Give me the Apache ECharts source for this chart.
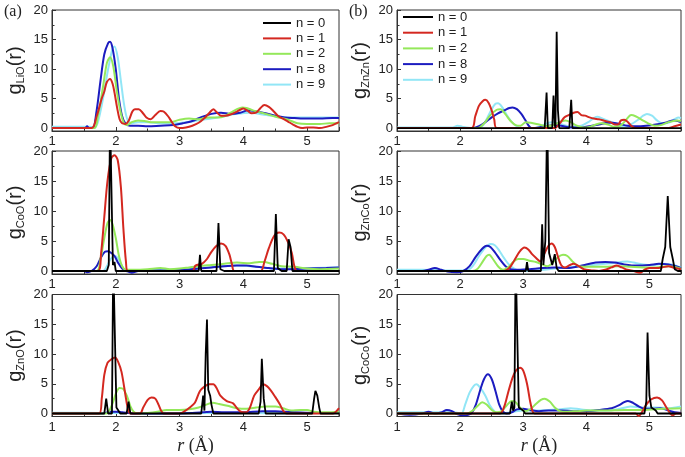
<!DOCTYPE html>
<html><head><meta charset="utf-8">
<script src="https://cdn.jsdelivr.net/npm/echarts@6/dist/echarts.min.js"></script>
<style>html,body{margin:0;padding:0;background:#fff}#c{width:685px;height:457px}</style>
</head><body><div id="c"></div>
<script>
// ---------- data ----------
const seriesNames = ['n = 0', 'n = 1', 'n = 2', 'n = 8', 'n = 9'];
const xTicks = [1, 2, 3, 4, 5];
const yTicks = [0, 5, 10, 15, 20];
const yMinorTicks = [2.5, 7.5, 12.5, 17.5];
const pairLabels = ['LiO', 'ZnZn', 'CoO', 'ZnCo', 'ZnO', 'CoCo'];

// g_LiO (no n = 0 curve)
const LiO_n0 = [];
const LiO_n1 = [[1,0],[1.62,0],[1.7,2],[1.78,5],[1.82,6.2],[1.86,7.8],[1.91,8.3],[1.95,7.5],[1.98,6],[2.02,3.5],[2.06,1.5],[2.1,0.8],[2.15,0.7],[2.2,1.2],[2.26,2.8],[2.3,3.2],[2.36,3.2],[2.42,2.6],[2.48,1.8],[2.55,1.5],[2.62,2.2],[2.7,2.9],[2.75,2.8],[2.82,2.0],[2.88,1.0],[2.93,0.3],[3.0,0],[3.1,0.1],[3.2,0.4],[3.3,0.9],[3.4,1.8],[3.47,2.6],[3.53,3.2],[3.58,2.7],[3.65,2.1],[3.72,2.1],[3.8,2.3],[3.88,2.7],[3.95,3.1],[4.0,3.3],[4.07,2.9],[4.13,2.5],[4.2,2.6],[4.27,3.4],[4.33,3.9],[4.4,3.6],[4.47,2.9],[4.55,2.0],[4.62,1.6],[4.7,1.1],[4.78,0.6],[4.85,0.2],[4.92,0],[5.0,0.1],[5.1,0.1],[5.2,0],[5.3,0.2],[5.4,0.5],[5.5,1.0]];
const LiO_n2 = [[1,0],[1.66,0],[1.72,2],[1.8,7],[1.86,11],[1.91,12],[1.96,10.5],[2.02,6],[2.08,2.5],[2.13,0.8],[2.18,0.5],[2.25,1.0],[2.35,1.3],[2.45,1.2],[2.55,1.0],[2.7,1.0],[2.85,1.0],[3.0,1.4],[3.15,1.6],[3.3,1.5],[3.45,1.8],[3.6,1.8],[3.7,2.0],[3.8,2.6],[3.9,3.2],[3.98,3.5],[4.05,3.4],[4.15,3.0],[4.25,2.7],[4.35,2.4],[4.45,2.1],[4.55,1.8],[4.65,1.6],[4.75,1.2],[4.85,0.8],[5.0,0.7],[5.2,0.7],[5.35,0.8],[5.5,0.8]];
const LiO_n8 = [[1,0],[1.52,0],[1.55,0.3],[1.58,0],[1.64,0],[1.7,3],[1.76,8],[1.82,12.5],[1.88,14.4],[1.91,14.6],[1.95,13.5],[2.0,10],[2.05,5],[2.1,2],[2.15,0.8],[2.22,0.4],[2.35,0.4],[2.5,0.3],[2.7,0.4],[2.9,0.5],[3.05,0.8],[3.2,1.2],[3.35,1.9],[3.5,2.4],[3.65,2.6],[3.8,2.4],[3.95,2.6],[4.08,3.0],[4.2,2.8],[4.35,2.5],[4.5,2.1],[4.65,1.8],[4.8,1.7],[5.0,1.6],[5.2,1.6],[5.4,1.7],[5.5,1.7]];
const LiO_n9 = [[1,0.2],[1.6,0.2],[1.66,0],[1.72,1],[1.8,5],[1.88,10],[1.95,13.5],[1.98,13.8],[2.03,12],[2.08,8],[2.13,4],[2.18,1.5],[2.24,0.8],[2.35,1.0],[2.5,1.0],[2.7,0.8],[2.9,0.8],[3.1,1.0],[3.3,1.3],[3.5,1.6],[3.7,2.0],[3.9,2.4],[4.1,2.6],[4.3,2.3],[4.5,2.0],[4.7,1.8],[5.0,1.8],[5.3,1.8],[5.5,1.8]];

// g_ZnZn
const ZnZn_n0 = [[1,0],[3.34,0],[3.37,6],[3.39,0],[3.46,0],[3.48,5.5],[3.5,0.5],[3.51,0],[3.53,16.3],[3.55,3],[3.57,0],[3.73,0],[3.76,4.8],[3.78,0],[5.5,0]];
const ZnZn_n1 = [[1,0],[2.18,0],[2.24,2],[2.3,3.8],[2.36,4.6],[2.4,4.8],[2.45,4.3],[2.5,3],[2.54,1.5],[2.58,0],[3.5,0],[3.58,0.8],[3.65,1.8],[3.72,2.2],[3.8,2.6],[3.86,2.7],[3.92,2.2],[3.98,2.1],[4.05,1.8],[4.12,1.6],[4.2,1.5],[4.3,1.2],[4.38,1.0],[4.45,0.6],[4.5,0.6],[4.55,1.3],[4.6,1.4],[4.66,1.0],[4.72,0.3],[4.78,0],[5.3,0],[5.4,0.3],[5.5,0.6]];
const ZnZn_n2 = [[1,0],[2.28,0],[2.38,0.8],[2.48,2.2],[2.58,3.1],[2.64,3.2],[2.72,2.3],[2.8,1.2],[2.88,0.5],[2.96,0.4],[3.04,1.0],[3.12,0.9],[3.25,0.6],[3.38,0.3],[3.5,0.6],[3.6,1.1],[3.67,1.3],[3.75,1.0],[3.85,0.4],[3.95,0.1],[4.05,0.2],[4.15,0.6],[4.24,0.8],[4.34,0.6],[4.45,0.2],[4.55,0.5],[4.63,1.4],[4.71,2.2],[4.78,2.0],[4.88,1.4],[4.98,0.8],[5.08,0.4],[5.18,0.5],[5.3,1.0],[5.44,1.3],[5.5,1.2]];
const ZnZn_n8 = [[1,0],[2.2,0],[2.3,0.3],[2.4,1.0],[2.5,1.8],[2.6,2.5],[2.7,3.0],[2.78,3.4],[2.83,3.5],[2.9,3.2],[2.97,2.4],[3.03,1.4],[3.08,0.5],[3.13,0],[3.25,0.1],[3.4,0.4],[3.5,0.5],[3.6,0.4],[3.75,0.1],[3.9,0.1],[4.05,0.3],[4.2,0.6],[4.35,0.9],[4.42,0.9],[4.52,0.7],[4.65,0.4],[4.8,0.3],[4.95,0.4],[5.1,0.6],[5.25,0.9],[5.38,1.3],[5.45,1.2],[5.5,1.0]];
const ZnZn_n9 = [[1,0.1],[1.88,0.1],[1.96,0.4],[2.04,0.2],[2.2,0],[2.35,0.3],[2.42,1.5],[2.5,3.2],[2.56,4.1],[2.6,4.2],[2.67,3.5],[2.74,2.2],[2.82,1.0],[2.9,0.3],[2.97,0],[3.2,0],[3.3,0.4],[3.4,0.9],[3.46,1.0],[3.55,0.8],[3.65,0.5],[3.78,0.2],[3.92,0.4],[4.03,1.0],[4.12,1.7],[4.18,1.9],[4.28,1.5],[4.4,1.0],[4.52,0.4],[4.62,0.3],[4.72,0.7],[4.82,1.4],[4.9,2.1],[4.96,2.4],[5.04,2.1],[5.12,1.3],[5.2,0.8],[5.3,0.9],[5.4,1.5],[5.46,1.8],[5.5,1.7]];

// g_CoO
const CoO_n0 = [[1,0],[1.86,0],[1.89,1],[1.91,26],[1.935,26],[1.955,1],[1.98,1.5],[2.0,0],[3.3,0],[3.32,2.7],[3.34,0],[3.58,0],[3.61,8],[3.64,0.3],[3.7,0],[4.48,0],[4.51,9.5],[4.54,0.5],[4.6,0],[4.68,0],[4.71,5.3],[4.74,4],[4.77,0],[5.5,0]];
const CoO_n1 = [[1,0],[1.72,0],[1.77,3],[1.82,9],[1.87,15],[1.93,18.8],[1.98,19.3],[2.03,18.5],[2.08,14],[2.12,7],[2.16,1.5],[2.19,0],[3.2,0],[3.25,0.9],[3.35,1.2],[3.43,2.0],[3.5,3.2],[3.58,4.2],[3.65,4.6],[3.72,4.2],[3.78,2.8],[3.82,1.2],[3.86,0],[4.27,0],[4.33,1.5],[4.4,3.8],[4.48,5.8],[4.56,6.4],[4.63,6.1],[4.7,4.8],[4.76,3.0],[4.8,0.8],[4.84,0],[5.5,0]];
const CoO_n2 = [[1,0],[1.7,0],[1.76,2],[1.82,5.5],[1.87,8],[1.91,8.5],[1.95,7.8],[2.0,5.5],[2.05,2.5],[2.1,0.8],[2.16,0.2],[2.3,0.2],[2.5,0.3],[2.7,0.5],[2.85,0.3],[3.0,0.4],[3.15,0.6],[3.3,0.8],[3.5,1.0],[3.7,1.2],[3.9,1.4],[4.1,1.3],[4.25,1.5],[4.32,1.5],[4.45,1.2],[4.6,0.8],[4.8,0.7],[5.0,0.4],[5.2,0.3],[5.5,0.4]];
const CoO_n8 = [[1,0],[1.5,0],[1.55,-0.2],[1.62,0],[1.7,0.8],[1.77,2.3],[1.83,3.2],[1.88,3.3],[1.93,3.0],[1.98,2.5],[2.04,1.3],[2.1,0.4],[2.17,0],[2.25,-0.3],[2.35,0],[2.6,0.1],[2.9,0.1],[3.1,0.2],[3.3,0.4],[3.5,0.6],[3.7,0.8],[3.9,0.9],[4.05,0.9],[4.2,0.7],[4.4,0.5],[4.6,0.3],[4.8,0.3],[5.0,0.4],[5.3,0.5],[5.5,0.6]];
const CoO_n9 = [[1,0],[1.8,0],[1.86,0.8],[1.92,2.0],[1.98,2.5],[2.03,2.2],[2.08,1.2],[2.13,0.3],[2.2,0],[2.4,0.1],[2.7,0.2],[3.0,0.3],[3.3,0.5],[3.6,0.7],[3.9,0.9],[4.2,0.7],[4.5,0.4],[4.8,0.4],[5.1,0.5],[5.5,0.6]];

// g_ZnCo
const ZnCo_n0 = [[1,0],[3.04,0],[3.06,1.5],[3.08,0],[3.28,0],[3.3,7.8],[3.32,1],[3.35,5],[3.38,26],[3.41,3],[3.43,2.8],[3.46,1],[3.5,2.8],[3.53,0.5],[3.56,0],[5.18,0],[5.21,2],[5.25,4],[5.29,12.5],[5.33,4],[5.37,2],[5.4,0.3],[5.45,0],[5.5,0]];
const ZnCo_n1 = [[1,0],[2.7,0],[2.78,0.5],[2.86,1.8],[2.94,3.2],[3.02,3.9],[3.08,3.6],[3.14,2.8],[3.2,2.2],[3.27,1.6],[3.33,2.8],[3.4,4.2],[3.45,4.6],[3.5,4.0],[3.55,2.4],[3.6,1.0],[3.66,0.6],[3.74,1.0],[3.8,1.2],[3.88,0.8],[3.96,0.3],[4.1,0.1],[4.2,0],[4.3,0.2],[4.4,0.6],[4.48,0.9],[4.56,0.6],[4.65,0.2],[4.75,0],[4.85,-0.3],[4.92,0.2],[5.0,0.5],[5.1,0.5],[5.2,0.6],[5.3,0.8],[5.4,0.5],[5.5,0.3]];
const ZnCo_n2 = [[1,0],[2.2,0],[2.28,0.4],[2.36,1.6],[2.42,2.5],[2.46,2.7],[2.52,2.0],[2.6,0.8],[2.68,0.2],[2.76,0.6],[2.84,1.5],[2.92,2.0],[3.0,2.0],[3.1,1.7],[3.2,1.5],[3.3,1.1],[3.38,0.8],[3.46,1.3],[3.55,2.3],[3.63,2.7],[3.7,2.5],[3.78,1.6],[3.86,0.9],[3.95,0.7],[4.1,0.7],[4.3,0.7],[4.5,0.8],[4.7,0.7],[4.9,0.6],[5.1,0.6],[5.3,0.8],[5.5,0.4]];
const ZnCo_n8 = [[1,0],[1.4,0],[1.5,0.2],[1.6,0.5],[1.7,0.2],[1.8,-0.1],[1.95,-0.2],[2.05,0],[2.15,0.8],[2.25,2.4],[2.35,3.7],[2.42,4.2],[2.48,4.0],[2.56,3.0],[2.64,1.8],[2.72,0.8],[2.8,0.3],[2.95,0.2],[3.1,0.3],[3.3,0.5],[3.5,0.6],[3.7,0.5],[3.85,0.7],[4.0,1.1],[4.15,1.4],[4.3,1.5],[4.45,1.4],[4.6,1.1],[4.8,0.9],[5.0,1.0],[5.15,1.2],[5.3,1.1],[5.42,0.8],[5.5,0.5]];
const ZnCo_n9 = [[1,0.2],[1.4,0.2],[1.8,0.1],[2.1,0.1],[2.2,0.8],[2.3,2.5],[2.4,3.9],[2.48,4.5],[2.55,4.3],[2.62,3.4],[2.7,2.1],[2.78,1.0],[2.87,0.3],[2.95,0],[3.2,0.1],[3.5,0.4],[3.8,0.7],[4.0,0.9],[4.2,1.1],[4.4,1.3],[4.55,1.5],[4.65,1.6],[4.75,1.4],[4.9,1.1],[5.05,1.0],[5.2,1.2],[5.35,1.1],[5.5,0.6]];

// g_ZnO
const ZnO_n0 = [[1,0],[1.82,0],[1.85,2.5],[1.88,0],[1.94,0],[1.96,26],[1.99,26],[2.01,1],[2.04,1],[2.07,0],[2.17,0],[2.2,2],[2.23,0],[3.34,0],[3.37,3],[3.39,0.5],[3.41,10],[3.43,15.8],[3.45,4],[3.48,3],[3.5,1.5],[3.53,0],[4.24,0],[4.27,2],[4.29,9.2],[4.32,2.5],[4.35,0],[5.08,0],[5.11,2.5],[5.13,3.8],[5.16,3],[5.19,1],[5.21,0],[5.5,0]];
const ZnO_n1 = [[1,0],[1.74,0],[1.78,2.5],[1.82,6.5],[1.87,8.5],[1.93,9.1],[1.99,9.4],[2.04,8.6],[2.09,7.0],[2.15,3.2],[2.19,0.8],[2.23,0],[2.38,0],[2.43,1.0],[2.5,2.3],[2.56,2.7],[2.62,2.5],[2.67,1.5],[2.71,0.5],[2.75,0],[3.0,0],[3.08,0.4],[3.16,1.0],[3.24,1.8],[3.32,3.8],[3.4,4.6],[3.46,4.9],[3.53,4.9],[3.58,4.3],[3.64,3.0],[3.74,2.1],[3.84,1.7],[3.9,0.9],[3.96,0.3],[4.04,0.2],[4.1,0.9],[4.17,3.0],[4.24,4.0],[4.31,4.9],[4.37,4.6],[4.43,3.9],[4.5,2.8],[4.57,1.6],[4.63,0.4],[4.68,0],[5.4,0],[5.5,0.9]];
const ZnO_n2 = [[1,0],[1.85,0],[1.9,0.5],[1.96,2.0],[2.01,3.6],[2.06,4.3],[2.12,4.1],[2.18,2.8],[2.23,1.2],[2.28,0.3],[2.35,0],[2.5,0.1],[2.65,0.3],[2.8,0.6],[3.0,0.6],[3.15,0.7],[3.3,1.0],[3.42,1.5],[3.52,1.8],[3.62,1.6],[3.75,1.3],[3.9,0.9],[4.05,0.8],[4.2,1.0],[4.35,1.2],[4.5,1.2],[4.62,0.9],[4.75,0.5],[4.9,0.6],[5.0,0.6],[5.1,0.3],[5.3,0.2],[5.5,0.3]];
const ZnO_n8 = [[1,0],[1.8,0],[1.9,0.3],[2.0,0.3],[2.1,0.2],[2.3,0],[2.8,0],[3.2,0.1],[3.5,0.3],[3.7,0.2],[4.0,0.2],[4.3,0.4],[4.5,0.4],[4.8,0.2],[5.1,0.1],[5.5,0.1]];
const ZnO_n9 = [[1,0.15],[1.8,0.1],[2.5,0.05],[3.5,0.1],[4.5,0.05],[5.5,0.1]];

// g_CoCo
const CoCo_n0 = [[1,0],[2.79,0],[2.82,2],[2.84,0.5],[2.86,1],[2.88,26],[2.91,26],[2.93,1],[2.96,1],[3.0,0.5],[3.03,0],[4.92,0],[4.95,2],[4.97,13.6],[5.0,3],[5.03,1],[5.06,1],[5.1,0.5],[5.13,0],[5.5,0]];
const CoCo_n1 = [[1,0],[2.63,0],[2.7,1.2],[2.76,3.5],[2.83,6.0],[2.89,7.3],[2.95,7.7],[3.0,7.2],[3.06,5.0],[3.11,2.0],[3.15,0.3],[3.18,0],[4.78,0],[4.83,-0.4],[4.88,0.2],[4.95,1.5],[5.03,2.4],[5.12,2.7],[5.2,2.2],[5.27,1.0],[5.33,0],[5.37,-0.3],[5.42,0],[5.5,0]];
const CoCo_n2 = [[1,0],[2.1,0],[2.2,0.5],[2.28,1.3],[2.35,1.9],[2.42,1.5],[2.5,0.6],[2.58,0.2],[2.66,0.4],[2.74,1.4],[2.82,2.1],[2.88,1.9],[2.95,1.0],[3.03,0.4],[3.12,0.8],[3.2,1.6],[3.28,2.3],[3.34,2.5],[3.42,2.0],[3.5,1.0],[3.58,0.4],[3.7,0.3],[3.85,0.4],[4.0,0.5],[4.3,0.5],[4.6,0.6],[4.9,0.6],[5.2,0.8],[5.5,0.9]];
const CoCo_n8 = [[1,0],[1.2,-0.2],[1.4,0],[1.5,0.3],[1.6,0],[1.7,0.2],[1.79,0.6],[1.87,0.4],[1.95,-0.1],[2.05,-0.3],[2.13,-0.2],[2.18,0],[2.25,1.5],[2.32,4.0],[2.38,5.8],[2.44,6.6],[2.5,5.8],[2.56,3.8],[2.62,1.5],[2.68,0.3],[2.74,0],[2.82,0.2],[2.9,0.7],[3.0,0.8],[3.1,0.6],[3.25,0.4],[3.4,0.5],[3.6,0.5],[3.8,0.4],[4.0,0.4],[4.2,0.6],[4.4,0.9],[4.52,1.4],[4.6,1.9],[4.66,2.1],[4.74,1.8],[4.83,1.2],[4.93,0.8],[5.05,0.8],[5.18,0.9],[5.3,0.5],[5.4,0.2],[5.5,0.1]];
const CoCo_n9 = [[1,0.2],[1.5,0.2],[1.9,0.2],[2.02,0],[2.08,1.5],[2.15,3.5],[2.22,4.7],[2.26,4.9],[2.32,4.3],[2.4,3.0],[2.47,1.4],[2.55,0.3],[2.62,0],[2.8,0.2],[3.0,0.5],[3.2,0.5],[3.4,0.6],[3.6,0.7],[3.75,0.9],[3.9,0.7],[4.1,0.5],[4.3,0.5],[4.5,0.7],[4.7,1.2],[4.9,1.0],[5.1,1.0],[5.3,0.9],[5.5,1.2]];

const panelData = [
  [LiO_n0, LiO_n1, LiO_n2, LiO_n8, LiO_n9],
  [ZnZn_n0, ZnZn_n1, ZnZn_n2, ZnZn_n8, ZnZn_n9],
  [CoO_n0, CoO_n1, CoO_n2, CoO_n8, CoO_n9],
  [ZnCo_n0, ZnCo_n1, ZnCo_n2, ZnCo_n8, ZnCo_n9],
  [ZnO_n0, ZnO_n1, ZnO_n2, ZnO_n8, ZnO_n9],
  [CoCo_n0, CoCo_n1, CoCo_n2, CoCo_n8, CoCo_n9]
];

// ---------- styling ----------
const colors = ['#000000', '#d42820', '#94e85a', '#1c1cc0', '#92e6f6'];
const FONT = 'Liberation Sans';
const txt = '#222';
const colLeft = [52, 397], colWidth = [287, 284];
const rowTop = [10, 151, 294.5], rowHeight = [121, 123, 122];

const grids = [], xAxes = [], yAxes = [], series = [];
for (let i = 0; i < 6; i++) {
  const c = i % 2, r = Math.floor(i / 2);
  grids.push({ left: colLeft[c], width: colWidth[c], top: rowTop[r], height: rowHeight[r],
    show: true, borderColor: '#333', borderWidth: 1, backgroundColor: 'transparent' });
  xAxes.push({
    type: 'value', gridIndex: i, min: 1, max: 5.5, interval: 1,
    axisLine: { show: true, onZero: false, lineStyle: { color: '#333', width: 1 } },
    axisTick: { show: true, inside: true, length: 4, lineStyle: { color: '#333' } },
    minorTick: { show: true, splitNumber: 2, length: 2.5, lineStyle: { color: '#333' } },
    splitLine: { show: false }, minorSplitLine: { show: false },
    axisLabel: { show: true, fontSize: 13, fontFamily: FONT, color: txt, margin: 4,
      formatter: v => (xTicks.indexOf(v) >= 0 ? String(v) : '') },
    name: r === 2 ? '{i|r} (Å)' : '',
    nameLocation: 'middle', nameGap: 21,
    nameTextStyle: { fontFamily: 'Liberation Serif', fontSize: 18, color: txt,
      rich: { i: { fontFamily: 'Liberation Serif', fontStyle: 'italic', fontSize: 18, color: txt } } }
  });
  yAxes.push({
    type: 'value', gridIndex: i, min: -0.5, max: 20,
    axisLine: { show: true, onZero: false, lineStyle: { color: '#333', width: 1 } },
    axisTick: { show: true, inside: true, length: 4, customValues: yTicks, lineStyle: { color: '#333' } },
    splitLine: { show: false },
    axisLabel: { show: true, customValues: yTicks, fontSize: 13, fontFamily: FONT, color: txt, margin: 4 },
    name: '{g|g}{s|' + pairLabels[i] + '}{g|(r)}',
    nameLocation: 'middle', nameRotate: 90, nameGap: 26,
    nameTextStyle: { color: txt, fontFamily: FONT,
      rich: { g: { fontSize: 20, fontFamily: FONT, color: txt, lineHeight: 22 },
              s: { fontSize: 11, fontFamily: FONT, color: txt, verticalAlign: 'bottom', lineHeight: 11 } } }
  });
  // draw order: n=9 first, black last (on top)
  for (let k = 4; k >= 0; k--) {
    series.push({
      type: 'line', name: seriesNames[k], xAxisIndex: i, yAxisIndex: i,
      data: panelData[i][k], showSymbol: false, symbol: 'none',
      smooth: k === 0 ? false : 0.3,
      color: colors[k],
      lineStyle: { width: k === 0 ? 1.8 : 2, color: colors[k] },
      animation: false, clip: true
    });
  }
}
// minor y ticks
for (let i = 0; i < 6; i++) {
  yAxes.push({
    type: 'value', gridIndex: i, min: -0.5, max: 20, position: 'left',
    axisLine: { show: false }, splitLine: { show: false }, axisLabel: { show: false },
    axisTick: { show: true, inside: true, length: 2.5, customValues: yMinorTicks, lineStyle: { color: '#333' } }
  });
}

const legendBase = {
  orient: 'vertical', icon: 'rect', itemWidth: 28, itemHeight: 2, padding: 0,
  selectedMode: false, data: seriesNames,
  textStyle: { fontSize: 13, fontFamily: FONT, color: txt, lineHeight: 14 }
};

const chart = echarts.init(document.getElementById('c'), null, { renderer: 'canvas' });
chart.setOption({
  animation: false,
  backgroundColor: '#ffffff',
  grid: grids, xAxis: xAxes, yAxis: yAxes, series: series,
  legend: [
    Object.assign({}, legendBase, { left: 263, top: 16, itemGap: 1.4 }),
    Object.assign({}, legendBase, { left: 403, top: 10, itemWidth: 30, itemGap: 1.7 })
  ],
  graphic: [
    { type: 'text', left: 4, top: 4, style: { text: '(a)', fontFamily: 'Liberation Serif', fontSize: 16, fill: txt } },
    { type: 'text', left: 349, top: 4, style: { text: '(b)', fontFamily: 'Liberation Serif', fontSize: 16, fill: txt } }
  ]
});
</script></body></html>
